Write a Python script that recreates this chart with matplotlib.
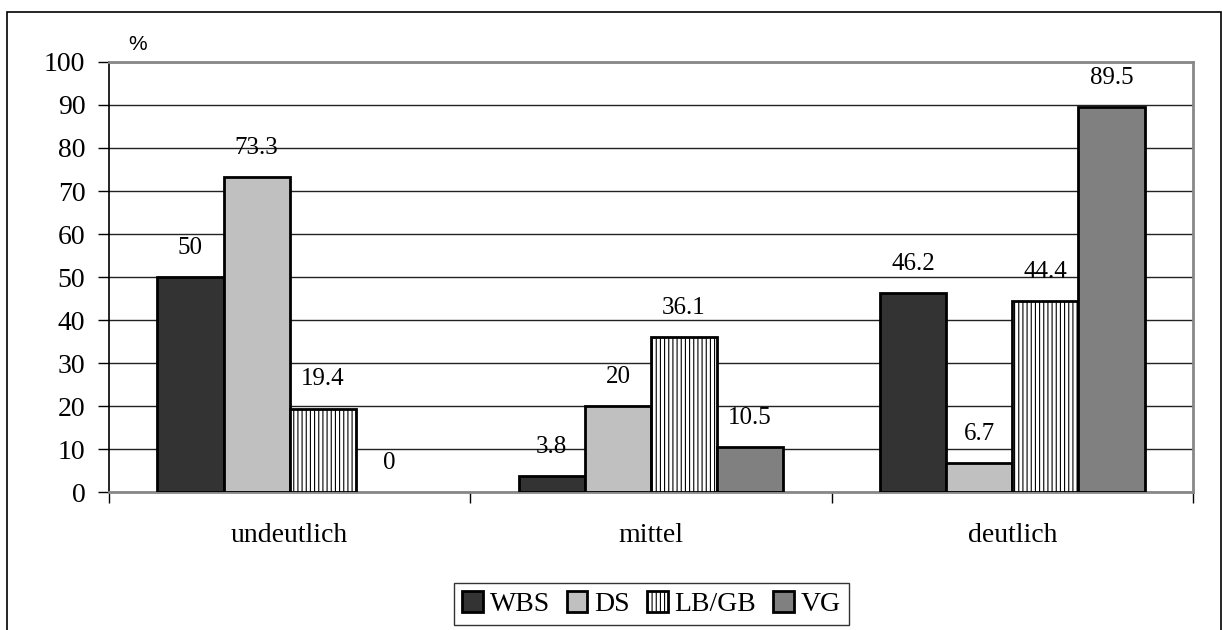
import matplotlib
matplotlib.use("Agg")
import matplotlib.pyplot as plt
import numpy as np
from matplotlib.patches import Rectangle

categories = ["undeutlich", "mittel", "deutlich"]
series_names = ["WBS", "DS", "LB/GB", "VG"]
values = {
    "WBS": [50, 3.8, 46.2],
    "DS": [73.3, 20, 6.7],
    "LB/GB": [19.4, 36.1, 44.4],
    "VG": [0, 10.5, 89.5],
}
yticks = [0, 10, 20, 30, 40, 50, 60, 70, 80, 90, 100]

colors = {"WBS": "#333333", "DS": "#c0c0c0", "LB/GB": "white", "VG": "#808080"}
hatches = {"WBS": None, "DS": None, "LB/GB": "||||", "VG": None}

plt.rcParams["hatch.linewidth"] = 0.8
serif = "Liberation Serif"

fig = plt.figure(figsize=(12.22, 6.30), dpi=100)
ax = fig.add_axes([0.0892, 0.219, 0.8871, 0.6826])

# outer chart frame
fig.patches.append(Rectangle((0.006, -0.01), 0.993, 0.991, transform=fig.transFigure,
                             fill=False, edgecolor="black", linewidth=1.2))

x = np.arange(len(categories))
w = 0.183
for i, name in enumerate(series_names):
    pos = x + (i - 1.5) * w
    vals = values[name]
    # a zero value draws no bar, only its label
    ax.bar(pos, vals, width=w, color=colors[name],
           edgecolor=["black" if v > 0 else "none" for v in vals],
           linewidth=2, hatch=hatches[name], zorder=3)
    for px, v in zip(pos, vals):
        ax.annotate(f"{v:g}", (px, v), xytext=(0, 21), textcoords="offset points",
                    ha="center", va="center", fontsize=18, family=serif, zorder=4)

ax.set_xlim(-0.5, len(categories) - 0.5)
ax.set_ylim(0, 100)
ax.set_yticks(yticks)
ax.set_yticklabels([str(t) for t in yticks], family=serif, fontsize=20)
ax.set_xticks(x)
ax.set_xticklabels(categories, family=serif, fontsize=20)
ax.tick_params(axis="x", length=0, pad=22)
ax.set_xticks(np.arange(-0.5, len(categories)), minor=True)
ax.tick_params(axis="x", which="minor", length=8, width=1, color="black", direction="out")
ax.tick_params(axis="y", length=8, width=1, direction="out", pad=9)

ax.yaxis.grid(True, color="#222222", linewidth=1, zorder=0)
ax.set_axisbelow(True)
ax.spines["left"].set_color("black")
ax.spines["left"].set_linewidth(1.2)
for s in ["top", "right", "bottom"]:
    ax.spines[s].set_color("#888888")
    ax.spines[s].set_linewidth(2)

ax.text(0.026, 1.04, "%", transform=ax.transAxes, family="Liberation Sans", fontsize=15,
        ha="center", va="center")

handles = [Rectangle((0, 0), 1, 1, facecolor=colors[n], edgecolor="black", linewidth=2,
                     hatch=hatches[n]) for n in series_names]
leg = fig.legend(handles, series_names, loc="center", bbox_to_anchor=(0.533, 0.041), ncol=4,
                 prop={"family": serif, "size": 20}, frameon=True, fancybox=False,
                 edgecolor="black", handlelength=0.75, handleheight=0.75, handletextpad=0.25,
                 columnspacing=0.6, borderpad=0.3, borderaxespad=0)
leg.get_frame().set_linewidth(1)

fig.savefig("out.png", dpi=100)
